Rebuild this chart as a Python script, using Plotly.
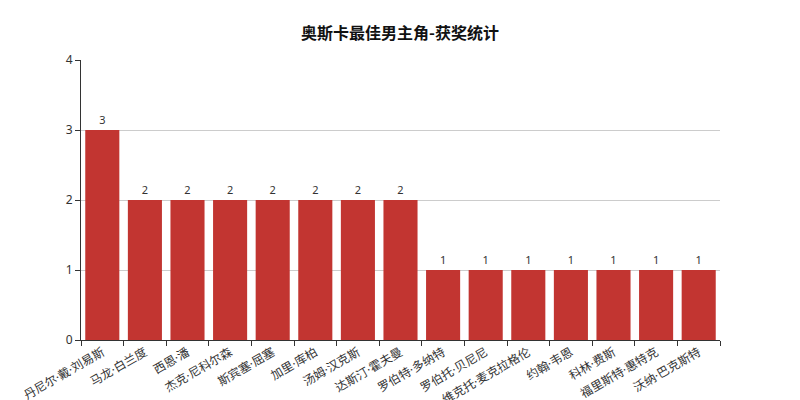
import plotly.graph_objects as go

# 获奖次数
actors = ['丹尼尔·戴·刘易斯', '马龙·白兰度', '西恩·潘', '杰克·尼科尔森', '斯宾塞·屈塞',
          '加里·库柏', '汤姆·汉克斯', '达斯汀·霍夫曼', '罗伯特·多纳特', '罗伯托·贝尼尼',
          '维克托·麦克拉格伦', '约翰·韦恩', '科林·费斯', '福里斯特·惠特克', '沃纳·巴克斯特']
wins = [3, 2, 2, 2, 2, 2, 2, 2, 1, 1, 1, 1, 1, 1, 1]
y_ticks = [0, 1, 2, 3, 4]

# latin font first so the middle dot stays narrow, CJK falls back
font_family = 'Noto Sans, Noto Sans CJK SC, sans-serif'

fig = go.Figure(go.Bar(
    x=actors,
    y=wins,
    marker=dict(color='#c23531', line=dict(width=0)),
    text=wins,
    textposition='outside',
    textfont=dict(size=11, color='#333'),
    cliponaxis=False,
))

fig.update_layout(
    width=800,
    height=400,
    margin=dict(l=81, r=80, t=60, b=60),
    paper_bgcolor='white',
    plot_bgcolor='white',
    font=dict(family=font_family, size=12, color='#333'),
    title=dict(text='<b>奥斯卡最佳男主角-获奖统计</b>', x=0.5, xanchor='center',
               y=0.917, yanchor='middle',
               font=dict(family='Noto Sans CJK SC, sans-serif', size=16, color='#111')),
    bargap=0.2,
    showlegend=False,
)

fig.update_xaxes(
    type='category',
    automargin=False,
    tickangle=-30,
    showline=True, linecolor='#333', linewidth=1,
    ticks='outside', ticklen=5, tickcolor='#333', tickson='boundaries',
    showgrid=False,
    tickfont=dict(size=12, color='#333'),
)

fig.update_yaxes(
    range=[0, 4],
    automargin=False,
    tickvals=y_ticks,
    showline=True, linecolor='#333', linewidth=1,
    ticks='outside', ticklen=5, tickcolor='#333',
    showgrid=True, gridcolor='#ccc', gridwidth=1,
    zeroline=False,
    tickfont=dict(size=12, color='#333'),
)

# drop the default 8px body margin so the figure sits at the page corner
fig.write_html('out.html', config={'displayModeBar': False},
               post_script="document.body.style.margin='0';")
